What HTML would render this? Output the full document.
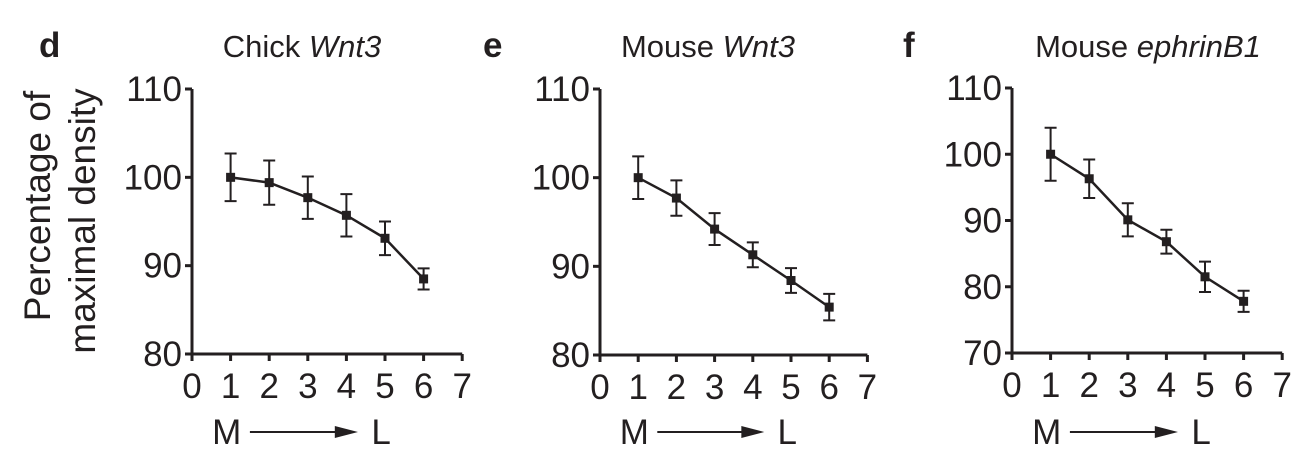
<!DOCTYPE html>
<html><head><meta charset="utf-8"><style>
html,body{margin:0;padding:0;background:#fff;}
svg{display:block;font-family:"Liberation Sans",Arial,sans-serif;}
</style></head><body>
<svg id="fig" width="1308" height="465" viewBox="0 0 1308 465">
<g fill="#231f20">
<text transform="translate(50,206) rotate(-90)" font-size="37" text-anchor="middle">Percentage of</text>
<text transform="translate(95,221) rotate(-90)" font-size="37" text-anchor="middle">maximal density</text>
</g>
</svg>
<script>
const panelLetters = ["d","e","f"];
const titlePlain = ["Chick ","Mouse ","Mouse "];
const titleItalic = ["Wnt3","Wnt3","ephrinB1"];
const xTicks = [0,1,2,3,4,5,6,7];
const yTicksD = [80,90,100,110];
const yTicksE = [80,90,100,110];
const yTicksF = [70,80,90,100,110];
const valuesD = [100,99.4,97.7,95.7,93.1,88.5];
const errorsD = [2.7,2.5,2.4,2.4,1.9,1.2];
const valuesE = [100,97.7,94.2,91.3,88.4,85.4];
const errorsE = [2.4,2.0,1.8,1.4,1.4,1.5];
const valuesF = [100,96.3,90.1,86.8,81.5,77.8];
const errorsF = [4.0,2.9,2.5,1.8,2.3,1.6];
const positions = [1,2,3,4,5,6];

const NS="http://www.w3.org/2000/svg";
const svg=document.getElementById('fig');
function mk(tag,attrs,parent){const e=document.createElementNS(NS,tag);for(const k in attrs)e.setAttribute(k,attrs[k]);(parent||svg).appendChild(e);return e;}

const panels=[
 {x0:192,step:38.6,yTop:89,yBot:354,ticks:yTicksD,vals:valuesD,errs:errorsD,letterX:39,titleX:302},
 {x0:600,step:38.2,yTop:89,yBot:355,ticks:yTicksE,vals:valuesE,errs:errorsE,letterX:483,titleX:708},
 {x0:1012,step:38.6,yTop:88,yBot:353,ticks:yTicksF,vals:valuesF,errs:errorsF,letterX:903,titleX:1148}
];
panels.forEach((p,i)=>{
 const g=mk('g',{});
 
 
 const ymin=p.ticks[0], ymax=p.ticks[p.ticks.length-1];
 const X=v=>p.x0+v*p.step;
 const Y=v=>p.yBot-(v-ymin)/(ymax-ymin)*(p.yBot-p.yTop);
 const L=mk('text',{x:p.letterX,y:57,'font-size':35,'font-weight':'bold',fill:'#231f20'},g);
 L.textContent=panelLetters[i];
 
 
 const T=mk('text',{x:p.titleX,y:57,'font-size':31,'text-anchor':'middle',fill:'#231f20'},g);
 
 
 const t1=mk('tspan',{},T);t1.textContent=titlePlain[i];
 const t2=mk('tspan',{'font-style':'italic'},T);t2.textContent=titleItalic[i];
 const ax=mk('path',{d:`M${X(0)},${Y(ymax)} V${Y(ymin)} H${X(7)}`,stroke:'#231f20','stroke-width':3,fill:'none'},g);
 
 
 p.ticks.forEach(t=>{
  mk('line',{x1:X(0)-7,x2:X(0),y1:Y(t),y2:Y(t),stroke:'#231f20','stroke-width':3},g);
  const tl=mk('text',{x:X(0)-10,y:Y(t)+12,'font-size':35,'text-anchor':'end',fill:'#231f20'},g);
  tl.textContent=t;
  
  
 });
 xTicks.forEach(t=>{
  mk('line',{x1:X(t),x2:X(t),y1:Y(ymin),y2:Y(ymin)+7,stroke:'#231f20','stroke-width':3},g);
  const tl=mk('text',{x:X(t),y:Y(ymin)+44,'font-size':35,'text-anchor':'middle',fill:'#231f20'},g);
  tl.textContent=t;
  
  
 });
 const d=p.vals.map((v,j)=>(j?'L':'M')+X(positions[j])+','+Y(v)).join(' ');
 const ln=mk('path',{d:d,stroke:'#231f20','stroke-width':2.5,fill:'none'},g);
 
 
 p.vals.forEach((v,j)=>{
  const x=X(positions[j]),e=p.errs[j];
  const eb=mk('path',{d:`M${x},${Y(v+e)} V${Y(v-e)} M${x-6},${Y(v+e)} H${x+6} M${x-6},${Y(v-e)} H${x+6}`,stroke:'#231f20','stroke-width':2,fill:'none'},g);
  
  
  const pt=mk('rect',{x:x-4.5,y:Y(v)-4.5,width:9,height:9,fill:'#231f20'},g);
  
  
 });
 const ml=mk('g',{},g);
 
 
 const mx=X(0.9), lx=X(4.9);
 const m=mk('text',{x:mx,y:444,'font-size':35,'text-anchor':'middle',fill:'#231f20'},ml);m.textContent='M';
 mk('line',{x1:X(1.5),x2:X(4.0),y1:432,y2:432,stroke:'#231f20','stroke-width':2},ml);
 mk('polygon',{points:`${X(3.7)},426 ${X(4.3)},432 ${X(3.7)},438`,fill:'#231f20'},ml);
 const l=mk('text',{x:lx,y:444,'font-size':35,'text-anchor':'middle',fill:'#231f20'},ml);l.textContent='L';
});
</script>
</body></html>
